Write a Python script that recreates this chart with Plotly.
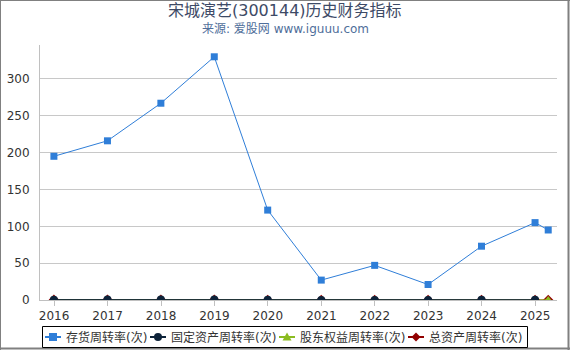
import plotly.graph_objects as go

dates = ["2015-12-31", "2016-12-31", "2017-12-31", "2018-12-31", "2019-12-31",
         "2020-12-31", "2021-12-31", "2022-12-31", "2023-12-31", "2024-12-31", "2025-03-31"]
inventory_turnover = [195, 216, 267, 330, 122, 27, 47, 21, 73, 105, 95]
fixed_asset_turnover = [0.5, 0.55, 0.6, 0.55, 0.3, 0.1, 0.15, 0.1, 0.3, 0.4, None]
equity_turnover = [0.35, 0.4, 0.45, 0.4, 0.15, 0.05, 0.08, 0.05, 0.15, 0.2, 0.05]
total_asset_turnover = [0.3, 0.33, 0.36, 0.33, 0.12, 0.04, 0.06, 0.04, 0.12, 0.16, 0.04]
tick_years = ["2016", "2017", "2018", "2019", "2020", "2021", "2022", "2023", "2024", "2025"]
series_names = ["存货周转率(次)", "固定资产周转率(次)", "股东权益周转率(次)", "总资产周转率(次)"]
series_colors = ["#2f7ed8", "#0d233a", "#8bbc21", "#910000"]
series_symbols = ["square", "circle", "triangle-up", "diamond"]

font_family = "DejaVu Sans, Noto Sans CJK SC, sans-serif"

fig = go.Figure()
# draw order: total, equity, fixed, inventory (inventory on top)
for idx, vals in [(3, total_asset_turnover), (2, equity_turnover),
                  (1, fixed_asset_turnover), (0, inventory_turnover)]:
    fig.add_trace(go.Scatter(
        x=dates, y=vals, name=series_names[idx], mode="lines+markers",
        line=dict(color=series_colors[idx], width=1),
        marker=dict(symbol=series_symbols[idx], size=7 if idx == 0 else 8,
                    color=series_colors[idx]),
        showlegend=False))

W, H = 570, 350
ml, mr, mt, mb = 40, 13, 45, 50
pw, ph = W - ml - mr, H - mt - mb


def px_x(x):
    return (x - ml) / pw


def px_y(y):
    return (H - mb - y) / ph


border = "#808080"
shapes = [
    dict(type="line", x0=px_x(0.5), x1=px_x(0.5), y0=px_y(0), y1=px_y(H),
         line=dict(color=border, width=1)),
    dict(type="line", x0=px_x(0), x1=px_x(W), y0=px_y(0.5), y1=px_y(0.5),
         line=dict(color=border, width=1)),
    dict(type="line", x0=px_x(568.5), x1=px_x(568.5), y0=px_y(0), y1=px_y(H),
         line=dict(color=border, width=2)),
    dict(type="line", x0=px_x(0), x1=px_x(W), y0=px_y(348.5), y1=px_y(348.5),
         line=dict(color=border, width=2)),
    # legend box
    dict(type="rect", x0=px_x(42.5), x1=px_x(527.5), y0=px_y(326.5), y1=px_y(347.5),
         line=dict(color="#000000", width=1), fillcolor="rgba(0,0,0,0)"),
]
annotations = [
    dict(text="宋城演艺(300144)历史财务指标", x=px_x(W / 2), y=px_y(10),
         xanchor="center", yanchor="middle", showarrow=False,
         font=dict(size=16, color="#3d4a66", family=font_family)),
    dict(text="来源: 爱股网 www.iguuu.com", x=px_x(W / 2), y=px_y(29),
         xanchor="center", yanchor="middle", showarrow=False,
         font=dict(size=12, color="#4f6e9a", family=font_family)),
]

# custom legend layout (Highcharts style)
text_widths = [81, 105, 105, 93]
ly = 337
sx = 45
for i, name in enumerate(series_names):
    c = series_colors[i]
    shapes.append(dict(type="line", x0=px_x(sx), x1=px_x(sx + 16), y0=px_y(ly), y1=px_y(ly),
                       line=dict(color=c, width=2)))
    cx = sx + 8
    sym = series_symbols[i]
    if sym == "square":
        shapes.append(dict(type="rect", x0=px_x(cx - 4), x1=px_x(cx + 4),
                           y0=px_y(ly - 4), y1=px_y(ly + 4), line=dict(width=0), fillcolor=c))
    elif sym == "circle":
        shapes.append(dict(type="circle", x0=px_x(cx - 4), x1=px_x(cx + 4),
                           y0=px_y(ly - 4), y1=px_y(ly + 4), line=dict(width=0), fillcolor=c))
    elif sym == "triangle-up":
        path = "M {} {} L {} {} L {} {} Z".format(
            px_x(cx), px_y(ly - 4.5), px_x(cx - 4.5), px_y(ly + 3.5), px_x(cx + 4.5), px_y(ly + 3.5))
        shapes.append(dict(type="path", path=path, line=dict(width=0), fillcolor=c))
    else:
        path = "M {} {} L {} {} L {} {} L {} {} Z".format(
            px_x(cx), px_y(ly - 4.5), px_x(cx + 4.5), px_y(ly), px_x(cx), px_y(ly + 4.5),
            px_x(cx - 4.5), px_y(ly))
        shapes.append(dict(type="path", path=path, line=dict(width=0), fillcolor=c))
    tx = sx + 19
    annotations.append(dict(text=name, x=px_x(tx), y=px_y(ly), xanchor="left", yanchor="middle",
                            showarrow=False, xshift=0,
                            font=dict(size=12, color="#333333", family=font_family)))
    sx = tx + text_widths[i] + 5

for s in shapes:
    s.update(xref="paper", yref="paper", layer="above")
for a in annotations:
    a.update(xref="paper", yref="paper")

fig.update_layout(
    width=W, height=H,
    margin=dict(l=ml, r=mr, t=mt, b=mb, autoexpand=False),
    paper_bgcolor="white", plot_bgcolor="white",
    font=dict(family=font_family, color="#333333", size=12),
    showlegend=False,
    xaxis=dict(type="date", range=["2015-09-27", "2025-05-30"],
               tickvals=[y + "-01-01" for y in tick_years], ticktext=tick_years,
               showgrid=False, showline=True, linecolor="#c0c0c0", linewidth=1,
               ticks="outside", ticklen=5, tickcolor="#c0c0c0",
               tickfont=dict(size=12, color="#333333"), zeroline=False),
    yaxis=dict(range=[0, 346], dtick=50, showgrid=True, gridcolor="#c8c8c8", gridwidth=1,
               showline=True, linecolor="#c0c0c0", linewidth=1, zeroline=False,
               tickfont=dict(size=12, color="#333333"), ticks="", ticklabelstandoff=7),
    annotations=annotations,
    shapes=shapes,
)

fig.write_html("out.html")
